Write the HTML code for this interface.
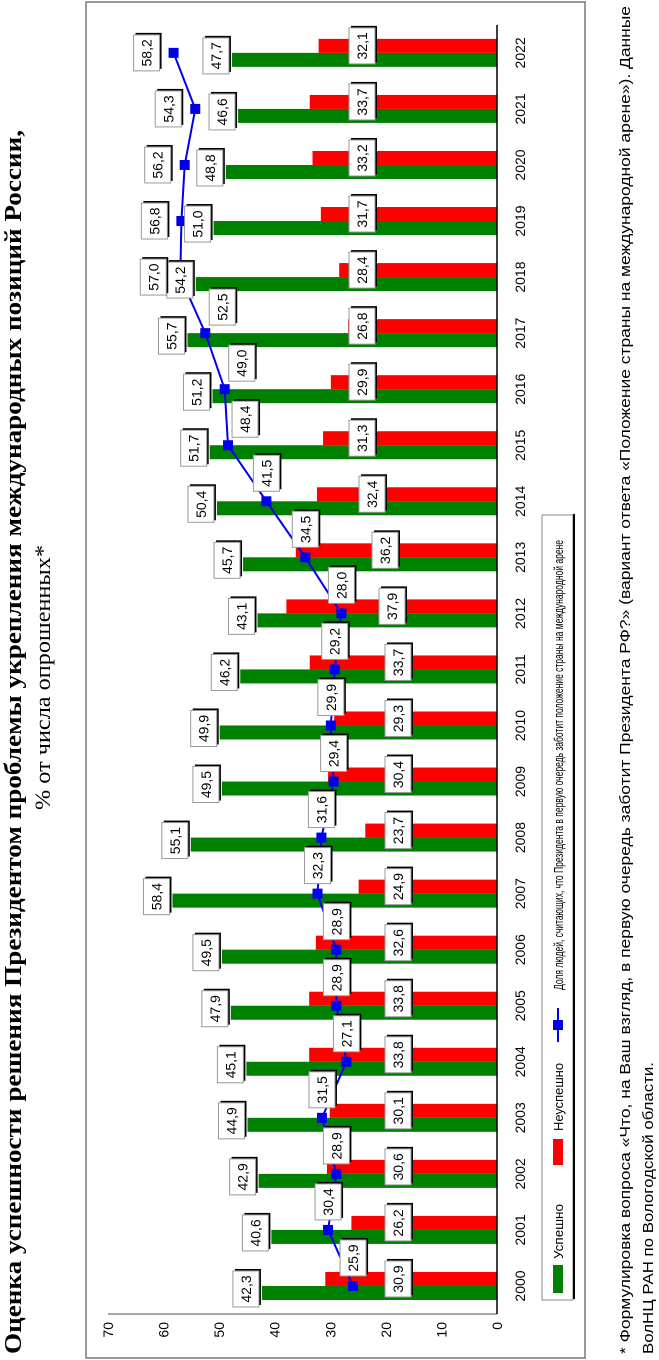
<!DOCTYPE html>
<html><head><meta charset="utf-8">
<style>
html,body{margin:0;padding:0;background:#fff;}
body{width:659px;height:1360px;overflow:hidden;position:relative;}
#land{position:absolute;left:0;top:0;width:1360px;height:659px;transform-origin:0 0;transform:translate(0px,1360px) rotate(-90deg);}
svg text{font-family:"Liberation Sans","DejaVu Sans",sans-serif;}
</style></head>
<body>
<div id="land">
<svg id="chart" width="1360" height="659" viewBox="0 0 1360 659" xmlns="http://www.w3.org/2000/svg">
  <rect x="0" y="0" width="1360" height="659" fill="#fff"/>
  <text x="6" y="21" font-size="24" font-weight="bold" textLength="1224" lengthAdjust="spacingAndGlyphs" style="font-family:'Liberation Serif',serif">Оценка успешности решения Президентом проблемы укрепления международных позиций России,</text>
  <text x="550" y="50" font-size="22" textLength="265" lengthAdjust="spacingAndGlyphs" style="font-family:'Liberation Serif',serif">% от числа опрошенных*</text>
  <rect x="2" y="86" width="1356" height="499" fill="none" stroke="#777" stroke-width="1.5"/>
  <g id="plot"></g>
  <g>
    <rect x="60" y="542" width="785" height="31" fill="#fff" stroke="#888" stroke-width="1"/>
    <line x1="61" y1="574" x2="846" y2="574" stroke="#000" stroke-width="2"/>
    <rect x="67" y="553" width="28" height="10" fill="#008000"/>
    <text x="101" y="563" font-size="13" textLength="55" lengthAdjust="spacingAndGlyphs">Успешно</text>
    <rect x="195" y="553" width="26" height="10" fill="#FF0000"/>
    <text x="229" y="563" font-size="13" textLength="68" lengthAdjust="spacingAndGlyphs">Неуспешно</text>
    <line x1="318" y1="558" x2="352" y2="558" stroke="#0000EE" stroke-width="2"/>
    <rect x="330" y="553" width="10" height="10" fill="#0000EE"/>
    <text x="370" y="563" font-size="13" textLength="450" lengthAdjust="spacingAndGlyphs">Доля людей, считающих, что Президента в первую очередь заботит положение страны на международной арене</text>
  </g>
  <text x="6" y="630" font-size="15" textLength="1348" lengthAdjust="spacingAndGlyphs">* Формулировка вопроса «Что, на Ваш взгляд, в первую очередь заботит Президента РФ?» (вариант ответа «Положение страны на международной арене»). Данные</text>
  <text x="6" y="653" font-size="15" textLength="292" lengthAdjust="spacingAndGlyphs">ВолНЦ РАН по Вологодской области.</text>
</svg>
</div>
<script>
const years = ["2000","2001","2002","2003","2004","2005","2006","2007","2008","2009","2010","2011","2012","2013","2014","2015","2016","2017","2018","2019","2020","2021","2022"];
const successVals = [42.3,40.6,42.9,44.9,45.1,47.9,49.5,58.4,55.1,49.5,49.9,46.2,43.1,45.7,50.4,51.7,51.2,55.7,54.2,51.0,48.8,46.6,47.7];
const failVals = [30.9,26.2,30.6,30.1,33.8,33.8,32.6,24.9,23.7,30.4,29.3,33.7,37.9,36.2,32.4,31.3,29.9,26.8,28.4,31.7,33.2,33.7,32.1];
const concernVals = [25.9,30.4,28.9,31.5,27.1,28.9,28.9,32.3,31.6,29.4,29.9,29.2,28.0,34.5,41.5,48.4,49.0,52.5,57.0,56.8,56.2,54.3,58.2];
const valueTicks = [0,10,20,30,40,50,60,70];

const NS = "http://www.w3.org/2000/svg";
const plot = document.getElementById("plot");
const Y0 = 497, PXU = 5.557;
const X0 = 46, SLOT = 56.05;
function vy(v){ return Y0 - v*PXU; }
function cx(i){ return X0 + SLOT*(i+0.5); }
function mk(tag, attrs, parent){
  const e = document.createElementNS(NS, tag);
  for (const k in attrs) e.setAttribute(k, attrs[k]);
  (parent||plot).appendChild(e);
  return e;
}
function fmt(v){ return v.toFixed(1).replace(".", ","); }
function labelBox(x, yc, txt, name){
  const g = mk("g", {});
  
  
  const w = 36, h = 26;
  mk("rect", {x:x-w/2+2, y:yc-h/2+2, width:w, height:h, fill:"#000"}, g);
  mk("rect", {x:x-w/2, y:yc-h/2, width:w, height:h, fill:"#fff", stroke:"#999", "stroke-width":1}, g);
  const t = mk("text", {x:x, y:yc+5, "font-size":14, "text-anchor":"middle", fill:"#000"}, g);
  t.textContent = txt;
}

const va = mk("line", {x1:X0, y1:vy(70), x2:X0, y2:Y0, stroke:"#888", "stroke-width":1.5});


valueTicks.forEach(v => {
  const t = mk("text", {x:38, y:vy(v)+5, "font-size":14, "text-anchor":"end", fill:"#000"});
  
  
  t.textContent = String(v);
});

years.forEach((yr, i) => {
  const c = cx(i);
  const gb = mk("rect", {x:c-14, y:vy(successVals[i]), width:14, height:successVals[i]*PXU, fill:"#008000"});
  
  
  const rb = mk("rect", {x:c, y:vy(failVals[i]), width:14, height:failVals[i]*PXU, fill:"#FF0000"});
  
  
});

const ca = mk("line", {x1:X0, y1:Y0, x2:X0+SLOT*years.length, y2:Y0, stroke:"#000", "stroke-width":1.5});


years.forEach((yr, i) => {
  const t = mk("text", {x:cx(i), y:525, "font-size":14, "text-anchor":"middle", fill:"#000"});
  
  
  t.textContent = yr;
});

const pts = concernVals.map((v,i) => cx(i).toFixed(1) + "," + vy(v).toFixed(1)).join(" ");
const pl = mk("polyline", {points:pts, fill:"none", stroke:"#0000EE", "stroke-width":2});


concernVals.forEach((v,i) => {
  const m = mk("rect", {x:cx(i)-5, y:vy(v)-5, width:10, height:10, fill:"#0000EE"});
  
  
});

years.forEach((yr, i) => {
  const c = cx(i);
  labelBox(c - 3, vy(successVals[i]) - 16, fmt(successVals[i]), 'label-success');
  let ry = i <= 11 ? 398 : (i === 12 ? 392 : (i === 13 ? 385 : (i === 14 ? 372 : 362)));
  labelBox(c + 7, ry, fmt(failVals[i]), 'label-fail');
  const my = vy(concernVals[i]);
  let lx, lyc;
  if (i <= 14) { lx = c + 28; lyc = my; }
  else if (i <= 17) { lx = c + 26; lyc = my + 17; }
  else { lx = c; lyc = my - 27; }
  labelBox(lx, lyc, fmt(concernVals[i]), 'label-concern');
});
</script>
</body></html>
